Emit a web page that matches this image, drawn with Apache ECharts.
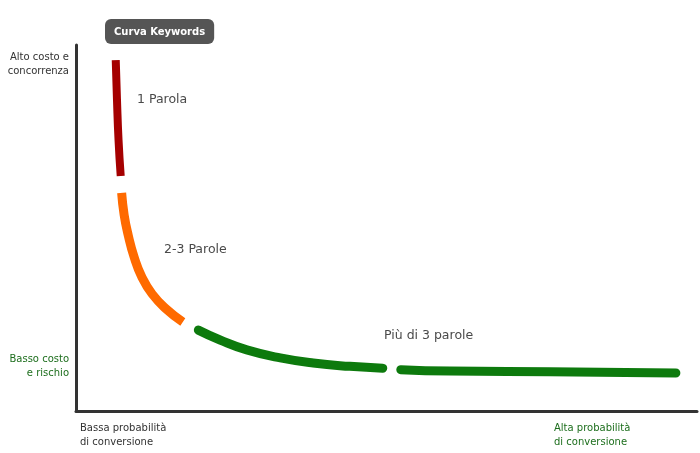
<!DOCTYPE html>
<html>
<head>
<meta charset="utf-8">
<script src="https://cdn.jsdelivr.net/npm/echarts@6/dist/echarts.min.js"></script>
<style>
  html, body { margin: 0; padding: 0; background: #fff; }
  #main { width: 700px; height: 453px; }
</style>
</head>
<body>
<div id="main"></div>
<script>
// curve segments, x = probabilita di conversione, y = costo (0-100)
const unaParola = [[6.4, 95.9], [6.6, 85.0], [6.85, 74.0], [7.2, 64.2]];
const dueTreParole = [[7.35, 59.6], [7.75, 53.6], [8.4, 48.1], [9.35, 42.1], [10.6, 36.6], [12.25, 32.0], [14.5, 27.9], [17.2, 24.3]];
const piuParole1 = [[19.7, 22.1], [23.2, 19.4], [27.5, 16.7], [32.9, 14.5], [38.2, 13.1], [44.1, 12.2], [49.4, 11.7]];
const piuParole2 = [[52.3, 11.3], [60.2, 10.9], [76.3, 10.7], [96.6, 10.4]];

const font = 'DejaVu Sans';

const chart = echarts.init(document.getElementById('main'));

function seg(data, color, width, cap) {
  return {
    type: 'line',
    data: data,
    smooth: true,
    symbol: 'none',
    lineStyle: { color: color, width: width, cap: cap },
    silent: true
  };
}

function txt(x, y, text, color, size, align) {
  return {
    type: 'text', x: x, y: y,
    style: { text: text, fill: color, font: size + 'px "' + font + '"', align: align || 'left', verticalAlign: 'top', lineHeight: 14 }
  };
}

const option = {
  animation: false,
  backgroundColor: '#fff',
  title: {
    text: 'Curva Keywords',
    left: 105,
    top: 19,
    backgroundColor: '#555',
    borderRadius: 6,
    padding: [7, 9, 6, 9],
    textStyle: { color: '#fff', fontSize: 10, fontWeight: 'bold', fontFamily: 'DejaVu Sans', lineHeight: 12 }
  },
  grid: { left: 76, right: 3, top: 45, bottom: 42 },
  xAxis: {
    type: 'value', min: 0, max: 100,
    axisLine: { show: true, onZero: false, lineStyle: { color: '#333', width: 3 } },
    axisTick: { show: false }, axisLabel: { show: false }, splitLine: { show: false }
  },
  yAxis: {
    type: 'value', min: 0, max: 100,
    axisLine: { show: true, onZero: false, lineStyle: { color: '#333', width: 3 } },
    axisTick: { show: false }, axisLabel: { show: false }, splitLine: { show: false }
  },
  graphic: [
    txt(69, 50, 'Alto costo e\nconcorrenza', '#333', 10, 'right'),
    txt(69, 352, 'Basso costo\ne rischio', '#1d6e1d', 10, 'right'),
    txt(80, 421, 'Bassa probabilità\ndi conversione', '#333', 10),
    txt(554, 421, 'Alta probabilità\ndi conversione', '#1d6e1d', 10),
    txt(137, 93, '1 Parola', '#4a4a4a', 12.5),
    txt(164, 243, '2-3 Parole', '#4a4a4a', 12.5),
    txt(384, 329, 'Più di 3 parole', '#4a4a4a', 12.5)
  ],
  series: [
    seg(unaParola, '#a50000', 8, 'butt'),
    seg(dueTreParole, '#ff6a00', 9, 'butt'),
    seg(piuParole1, '#0d7a0d', 9, 'round'),
    seg(piuParole2, '#0d7a0d', 9, 'round')
  ]
};

chart.setOption(option);
</script>
</body>
</html>
